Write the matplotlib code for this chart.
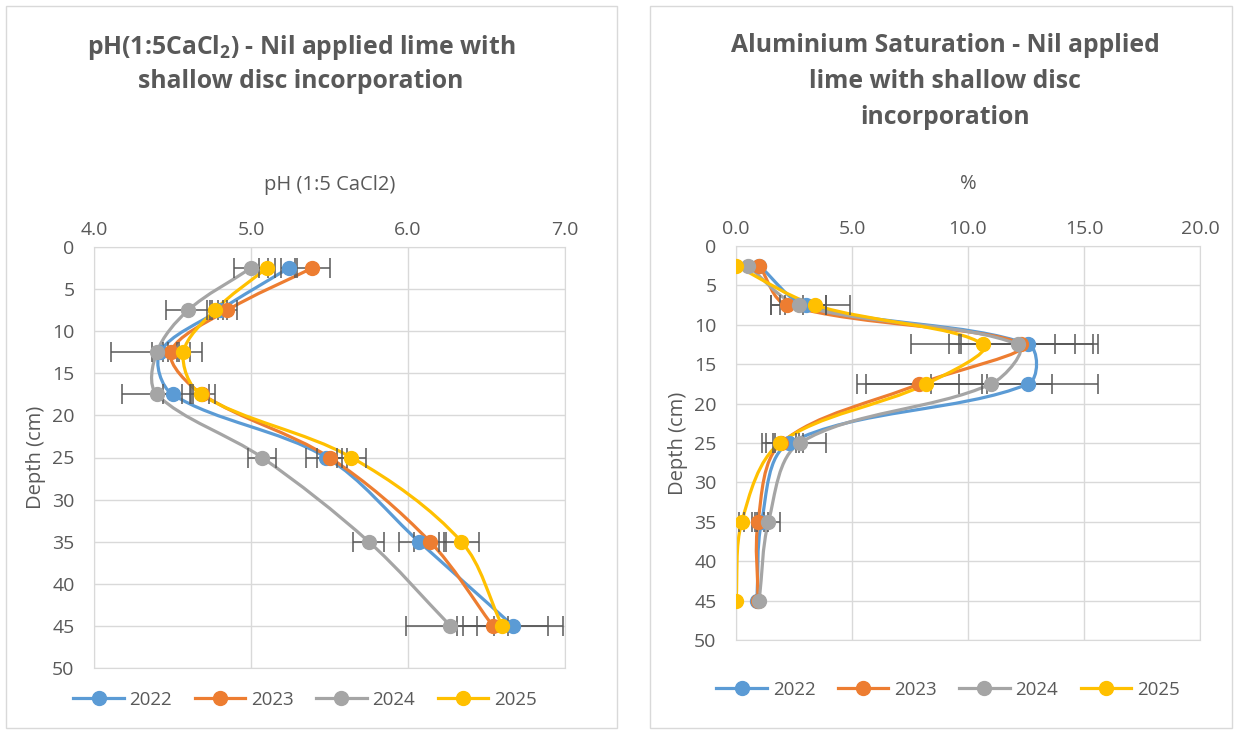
import matplotlib
matplotlib.use("Agg")
import math
import matplotlib.pyplot as plt
from matplotlib.path import Path
from matplotlib.patches import PathPatch, Rectangle
from matplotlib.lines import Line2D

plt.rcParams["font.family"] = ["Open Sans", "DejaVu Sans"]
plt.rcParams["mathtext.fontset"] = "custom"
plt.rcParams["mathtext.rm"] = "Open Sans"
plt.rcParams["mathtext.bf"] = "Open Sans:bold"

# ---- data ----
years = ["2022", "2023", "2024", "2025"]
colors = ["#5B9BD5", "#ED7D31", "#A5A5A5", "#FFC000"]
depth = [2.5, 7.5, 12.5, 17.5, 25, 35, 45]

ph_2022 = [5.24, 4.80, 4.42, 4.50, 5.48, 6.07, 6.67]
ph_2023 = [5.39, 4.85, 4.49, 4.69, 5.50, 6.14, 6.54]
ph_2024 = [5.00, 4.60, 4.40, 4.40, 5.07, 5.75, 6.27]
ph_2025 = [5.10, 4.77, 4.57, 4.68, 5.64, 6.34, 6.60]

ph_err_2022 = [0.05, 0.05, 0.05, 0.06, 0.13, 0.13, 0.32]
ph_err_2023 = [0.11, 0.06, 0.05, 0.08, 0.08, 0.10, 0.10]
ph_err_2024 = [0.11, 0.14, 0.29, 0.22, 0.09, 0.10, 0.28]
ph_err_2025 = [0.05, 0.05, 0.04, 0.05, 0.09, 0.11, 0.29]

al_2022 = [1.0, 3.0, 12.6, 12.6, 2.3, 1.1, 0.9]
al_2023 = [1.0, 2.2, 12.3, 7.9, 1.95, 0.95, 0.95]
al_2024 = [0.5, 2.7, 12.15, 11.0, 2.75, 1.4, 1.0]
al_2025 = [0.0, 3.4, 10.65, 8.2, 1.9, 0.25, 0.0]

al_err_2022 = [0.0, 0.9, 3.0, 3.0, 0.6, 0.3, 0.0]
al_err_2023 = [0.0, 0.7, 3.1, 2.7, 0.65, 0.25, 0.0]
al_err_2024 = [0.0, 1.2, 2.45, 2.6, 1.15, 0.5, 0.0]
al_err_2025 = [0.0, 1.5, 3.1, 2.6, 0.8, 0.1, 0.0]

ph_series = [ph_2022, ph_2023, ph_2024, ph_2025]
ph_errs = [ph_err_2022, ph_err_2023, ph_err_2024, ph_err_2025]
al_series = [al_2022, al_2023, al_2024, al_2025]
al_errs = [al_err_2022, al_err_2023, al_err_2024, al_err_2025]

TXT = "#595959"
GRID = "#D9D9D9"
W, H = 1236, 734


def smooth_path(ax, xs, ys):
    # Excel-like smoothed line, built in screen space so the tension
    # follows the on-screen segment lengths, then mapped back to data
    pts = [tuple(p) for p in ax.transData.transform(list(zip(xs, ys)))]
    n = len(pts)

    def dist(a, b):
        return math.hypot(b[0] - a[0], b[1] - a[1])

    verts = [pts[0]]
    codes = [Path.MOVETO]
    for i in range(n - 1):
        p0 = pts[i - 1] if i > 0 else pts[i]
        p1 = pts[i]
        p2 = pts[i + 1]
        p3 = pts[i + 2] if i + 2 < n else pts[i + 1]
        d01, d12, d23 = dist(p0, p1), dist(p1, p2), dist(p2, p3)
        f1 = d12 / (d01 + d12) / 3 if d01 + d12 > 0 else 0
        f2 = d12 / (d12 + d23) / 3 if d12 + d23 > 0 else 0
        c1 = (p1[0] + (p2[0] - p0[0]) * f1, p1[1] + (p2[1] - p0[1]) * f1)
        c2 = (p2[0] - (p3[0] - p1[0]) * f2, p2[1] - (p3[1] - p1[1]) * f2)
        verts += [c1, c2, p2]
        codes += [Path.CURVE4] * 3
    verts = ax.transData.inverted().transform(verts)
    return Path(verts, codes)


def px_box(x0, y0, x1, y1):
    return [x0 / W, 1 - y1 / H, (x1 - x0) / W, (y1 - y0) / H]


def draw_panel(ax, series, errs, xlim, xticks, ylabel_pad):
    ax.set_xlim(*xlim)
    ax.set_ylim(50, 0)
    for vals, err, c in zip(series, errs, colors):
        ax.add_patch(PathPatch(smooth_path(ax, vals, depth), fill=False, edgecolor=c,
                               lw=2.3, capstyle="round", zorder=2))
        # only draw error bars where there is one
        ex = [v for v, e in zip(vals, err) if e > 0]
        ey = [d for d, e in zip(depth, err) if e > 0]
        ee = [e for e in err if e > 0]
        ax.errorbar(ex, ey, xerr=ee, fmt="none", ecolor="#595959",
                    elinewidth=1.1, capsize=7, capthick=1.1, zorder=3)
        ax.plot(vals, depth, "o", color=c, ms=10, zorder=4)
    ax.set_xticks(xticks)
    ax.set_xticklabels([f"{t:.1f}" for t in xticks])
    ax.set_yticks(range(0, 51, 5))
    ax.xaxis.tick_top()
    ax.tick_params(length=0, labelsize=14, colors=TXT, pad=6)
    ax.tick_params(axis="y", pad=14)
    ax.grid(True, color=GRID, lw=1)
    ax.set_axisbelow(True)
    for s in ax.spines.values():
        s.set_color(GRID)
    ax.set_ylabel("Depth (cm)", fontsize=14.5, color=TXT, labelpad=ylabel_pad)


fig = plt.figure(figsize=(W / 100, H / 100), dpi=100)

# panel borders
fig.add_artist(Rectangle((6 / W, 1 - 728 / H), 611 / W, 722 / H, transform=fig.transFigure,
                         fill=False, edgecolor=GRID, lw=1))
fig.add_artist(Rectangle((650 / W, 1 - 728 / H), 582 / W, 722 / H, transform=fig.transFigure,
                         fill=False, edgecolor=GRID, lw=1))

ax1 = fig.add_axes(px_box(94, 247, 565, 668))
draw_panel(ax1, ph_series, ph_errs, (4.0, 7.0), [4.0, 5.0, 6.0, 7.0], 4)

ax2 = fig.add_axes(px_box(736, 246, 1200, 640))
draw_panel(ax2, al_series, al_errs, (0, 20), [0.0, 5.0, 10.0, 15.0, 20.0], 4)

# titles
fig.text(301 / W, 1 - 47 / H, r"pH(1:5CaCl$_\mathbf{2}$) - Nil applied lime with",
         ha="center", va="center", fontsize=17.8, fontweight="bold", color=TXT)
fig.text(301 / W, 1 - 81 / H, "shallow disc incorporation",
         ha="center", va="center", fontsize=17.8, fontweight="bold", color=TXT)
for i, line in enumerate(["Aluminium Saturation - Nil applied", "lime with shallow disc",
                          "incorporation"]):
    fig.text(945 / W, 1 - (45 + 36.5 * i) / H, line, ha="center", va="center",
             fontsize=17.8, fontweight="bold", color=TXT)

# axis titles
fig.text(330 / W, 1 - 185 / H, "pH (1:5 CaCl2)", ha="center", va="center",
         fontsize=14.5, color=TXT)
fig.text(968 / W, 1 - 184 / H, "%", ha="center", va="center", fontsize=14.5, color=TXT)

handles = [Line2D([], [], color=c, lw=2.3, marker="o", ms=10) for c in colors]
for cx, cy in [(305, 700), (948, 690)]:
    fig.legend(handles, years, loc="center", bbox_to_anchor=(cx / W, 1 - cy / H),
               ncol=4, frameon=False, fontsize=13.5, labelcolor=TXT,
               handlelength=2.7, columnspacing=1.2, handletextpad=0.3)

fig.savefig("out.png", dpi=100)
